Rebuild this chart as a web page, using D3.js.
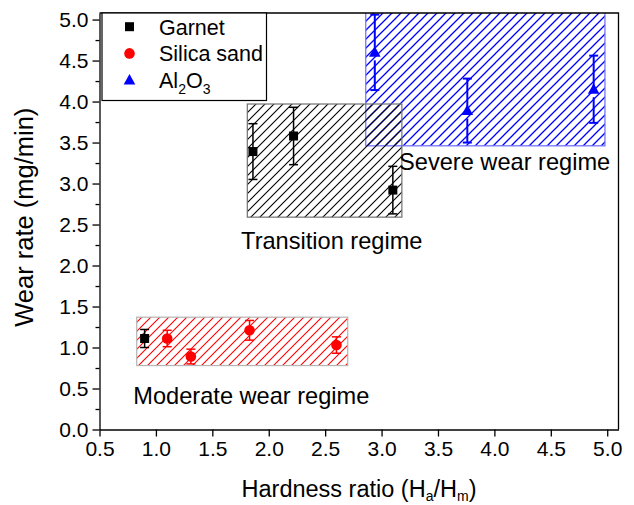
<!DOCTYPE html>
<html>
<head>
<meta charset="utf-8">
<script src="https://cdn.jsdelivr.net/npm/d3@7"></script>
<style>
  html, body { margin: 0; padding: 0; background: #fff; }
  svg text { font-family: "Liberation Sans", Arial, sans-serif; fill: #000; }
</style>
</head>
<body>
<svg id="chart" width="634" height="505"></svg>
<script>
// ---------- data ----------
const xTicks = [0.5, 1.0, 1.5, 2.0, 2.5, 3.0, 3.5, 4.0, 4.5, 5.0];
const yTicks = [0.0, 0.5, 1.0, 1.5, 2.0, 2.5, 3.0, 3.5, 4.0, 4.5, 5.0];
const yMinorTicks = [0.25, 0.75, 1.25, 1.75, 2.25, 2.75, 3.25, 3.75, 4.25, 4.75];

const garnetX = [0.9, 1.86, 2.22, 3.1];
const garnetY = [1.11, 3.39, 3.58, 2.92];
const garnetErr = [0.11, 0.34, 0.35, 0.29];

const silicaX = [1.1, 1.31, 1.83, 2.6];
const silicaY = [1.11, 0.89, 1.21, 1.03];
const silicaErr = [0.10, 0.09, 0.12, 0.10];

const aluminaX = [2.94, 3.76, 4.88];
const aluminaY = [4.60, 3.89, 4.15];
const aluminaErr = [0.46, 0.39, 0.41];

const regionNames = ["Moderate wear regime", "Transition regime", "Severe wear regime"];
const regionX0 = [0.83, 1.81, 2.86];
const regionX1 = [2.70, 3.18, 4.98];
const regionY0 = [0.78, 2.59, 3.46];
const regionY1 = [1.37, 3.97, 5.3];
const regionLabelX = [0.80, 1.755, 3.155];
const regionLabelY = [0.305, 2.205, 3.16];

// ---------- layout ----------
const svg = d3.select("#chart");
const X0 = 99.5, X1 = 618.5, Y0 = 429.5, Y1 = 13;
const x = d3.scaleLinear().domain([0.5, 5.1]).range([X0, X1]);
const y = d3.scaleLinear().domain([0, 5.08]).range([Y0, Y1]);

const defs = svg.append("defs");
function hatch(id, color, w) {
  const p = defs.append("pattern").attr("id", id)
    .attr("patternUnits", "userSpaceOnUse").attr("width", 9).attr("height", 9);
  p.append("path").attr("d", "M-1,1 L1,-1 M0,9 L9,0 M8,10 L10,8")
    .attr("stroke", color).attr("stroke-width", w);
}
hatch("hBlack", "#000", 1.1);
hatch("hRed", "#ff0000", 1.1);
hatch("hBlue", "#0000ff", 1.3);
defs.append("clipPath").attr("id", "plotClip")
  .append("rect").attr("x", X0).attr("y", Y1).attr("width", X1 - X0).attr("height", Y0 - Y1);

const regionFill = ["url(#hRed)", "url(#hBlack)", "url(#hBlue)"];
const regionStroke = ["#b4b4b4", "#707070", "#6a6aff"];
const regionOrder = [0, 2, 1];

const gPlot = svg.append("g").attr("clip-path", "url(#plotClip)");
regionOrder.forEach(i => {
  gPlot.append("rect")
    .attr("x", x(regionX0[i])).attr("y", y(regionY1[i]))
    .attr("width", x(regionX1[i]) - x(regionX0[i]))
    .attr("height", y(regionY0[i]) - y(regionY1[i]))
    .attr("fill", regionFill[i]).attr("stroke", regionStroke[i]).attr("stroke-width", 1.2);
});

regionNames.forEach((t, i) => {
  svg.append("text").attr("x", x(regionLabelX[i])).attr("y", y(regionLabelY[i]))
    .attr("font-size", 23.6).text(t);
});

// ---------- error bars + markers ----------
function series(xs, ys, es, color, shape, barW) {
  const g = svg.append("g");
  xs.forEach((xv, i) => {
    const cx = x(xv), cy = y(ys[i]);
    const yt = y(ys[i] + es[i]), yb = y(ys[i] - es[i]);
    const gap = shape === "triangle" ? 8 : 0;
    g.append("line").attr("x1", cx).attr("x2", cx).attr("y1", yt).attr("y2", cy)
      .attr("stroke", color).attr("stroke-width", barW);
    g.append("line").attr("x1", cx).attr("x2", cx).attr("y1", cy + gap).attr("y2", yb)
      .attr("stroke", color).attr("stroke-width", barW);
    [yt, yb].forEach(yy => g.append("line").attr("x1", cx - 4.5).attr("x2", cx + 4.5)
      .attr("y1", yy).attr("y2", yy).attr("stroke", color).attr("stroke-width", barW));
    drawMarker(g, cx, cy, color, shape);
  });
}
function drawMarker(g, cx, cy, color, shape) {
  if (shape === "square") {
    g.append("rect").attr("x", cx - 4.5).attr("y", cy - 4.5).attr("width", 9).attr("height", 9).attr("fill", color);
  } else if (shape === "circle") {
    g.append("circle").attr("cx", cx).attr("cy", cy).attr("r", 5.3).attr("fill", color);
  } else {
    g.append("path").attr("d", `M${cx},${cy - 6} L${cx + 5.8},${cy + 4.5} L${cx - 5.8},${cy + 4.5} Z`).attr("fill", color);
  }
}
series(aluminaX, aluminaY, aluminaErr, "#0000ff", "triangle", 2);
series(silicaX, silicaY, silicaErr, "#ff0000", "circle", 1.5);
series(garnetX, garnetY, garnetErr, "#000", "square", 1.5);

// ---------- axes ----------
const xAxis = svg.append("g").attr("transform", `translate(0,${Y0})`)
  .call(d3.axisBottom(x).tickValues(xTicks).tickFormat(d3.format(".1f")).tickSizeInner(7).tickSizeOuter(0).tickPadding(5));
const yAxis = svg.append("g").attr("transform", `translate(${X0},0)`)
  .call(d3.axisLeft(y).tickValues(yTicks).tickFormat(d3.format(".1f")).tickSizeInner(7).tickSizeOuter(0).tickPadding(4));
svg.append("g").attr("transform", `translate(${X0},0)`)
  .call(d3.axisLeft(y).tickValues(yMinorTicks).tickFormat("").tickSizeInner(4).tickSizeOuter(0))
  .select(".domain").remove();
[xAxis, yAxis].forEach(a => {
  a.selectAll("text").attr("font-size", 21).attr("font-family", "Liberation Sans, Arial, sans-serif");
  a.select(".domain").attr("stroke-width", 1.3);
});
svg.selectAll(".tick line").attr("stroke-width", 1.3);

// frame top + right
svg.append("path").attr("d", `M${X0},${Y1} H${X1} V${Y0}`).attr("fill", "none")
  .attr("stroke", "#000").attr("stroke-width", 1.3);

// ---------- axis titles ----------
const xt = svg.append("text").attr("x", (X0 + X1) / 2).attr("y", 497)
  .attr("text-anchor", "middle").attr("font-size", 23.5);
xt.append("tspan").text("Hardness ratio (H");
xt.append("tspan").attr("font-size", 14).attr("dy", 4).text("a");
xt.append("tspan").attr("dy", -4).text("/H");
xt.append("tspan").attr("font-size", 14).attr("dy", 4).text("m");
xt.append("tspan").attr("dy", -4).text(")");

svg.append("text").attr("transform", `translate(33,${(Y0 + Y1) / 2 - 4}) rotate(-90)`)
  .attr("text-anchor", "middle").attr("font-size", 25.5).text("Wear rate (mg/min)");

// ---------- legend ----------
const legendNames = ["Garnet", "Silica sand", "Al2O3"];
const legendColors = ["#000", "#ff0000", "#0000ff"];
const legendShapes = ["square", "circle", "triangle"];
const lg = svg.append("g");
lg.append("rect").attr("x", 102).attr("y", Y1).attr("width", 164.5).attr("height", 87.5)
  .attr("fill", "#fff").attr("stroke", "#000").attr("stroke-width", 1.2);
legendNames.forEach((n, i) => {
  const cy = 26.7 + i * 26.7;
  drawMarker(lg, 129.5, cy, legendColors[i], legendShapes[i]);
  const t = lg.append("text").attr("x", 159).attr("y", cy + 8).attr("font-size", 21.5);
  if (n === "Al2O3") {
    t.append("tspan").text("Al");
    t.append("tspan").attr("font-size", 14).attr("dy", 6).text("2");
    t.append("tspan").attr("dy", -6).text("O");
    t.append("tspan").attr("font-size", 14).attr("dy", 6).text("3");
  } else {
    t.text(n);
  }
});
</script>
</body>
</html>
